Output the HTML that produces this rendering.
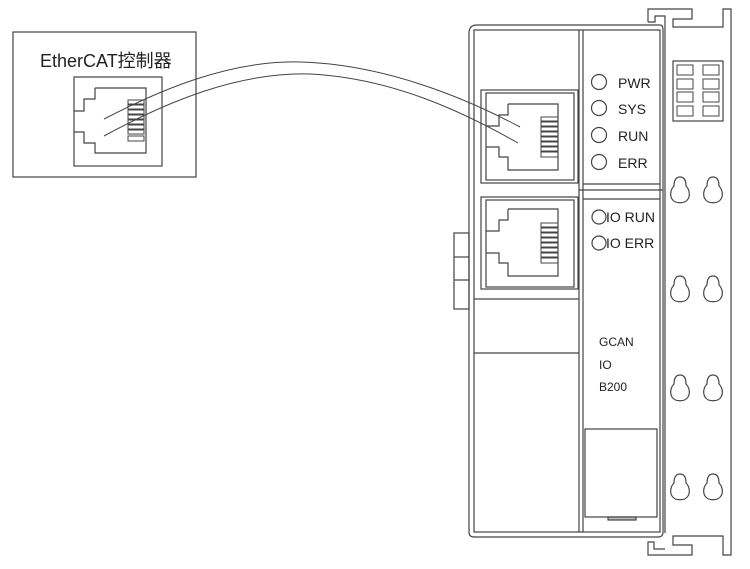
<!DOCTYPE html>
<html><head><meta charset="utf-8"><style>
html,body{margin:0;padding:0;background:#fff;}
svg{display:block}
text{font-family:"Liberation Sans","Noto Sans CJK SC",sans-serif;fill:#222}
</style></head><body>
<svg width="750" height="569" viewBox="0 0 750 569" xmlns="http://www.w3.org/2000/svg" fill="none" stroke="#444" stroke-width="1.2">
<!-- controller -->
<rect x="13" y="32" width="183" height="145"/>
<text x="40" y="67" font-size="18" stroke="none">EtherCAT控制器</text>
<rect x="74" y="77" width="88" height="89"/>
<polyline points="95,88 146,88 146,153 95,153 95,143 84,143 84,132 74,132"/>
<polyline points="95,88 95,99 84,99 84,111 74,111"/>
<g stroke-width="1">
<rect x="128" y="100" width="16" height="4"/><rect x="128" y="105" width="16" height="4"/><rect x="128" y="110" width="16" height="4"/><rect x="128" y="115" width="16" height="4"/>
<rect x="128" y="120" width="16" height="4"/><rect x="128" y="125" width="16" height="4"/><rect x="128" y="130" width="16" height="4"/><rect x="128" y="136" width="16" height="5"/>
</g>
<!-- cables -->
<path d="M104,119 C160,90 230,60 300,62 C380,64 460,95 520,127" stroke-width="1"/>
<path d="M104,136 C170,100 240,72 310,74 C390,78 460,110 518,143" stroke-width="1"/>
<!-- rail -->
<polyline points="648,22 648,9 692,9 692,19 673,19 673,27 723,27 723,9 731,9 731,555 723,555 723,536 673,536 673,545 692,545 692,555 648,555 648,542 654,542 654,549 665,549"/>
<polyline points="665,533 665,27 665,16 655,16 655,22 648,22"/>
<rect x="673" y="61" width="50" height="60"/>
<g stroke-width="1">
<rect x="677" y="65" width="16" height="10"/><rect x="703" y="65" width="16" height="10"/>
<rect x="677" y="79" width="16" height="10"/><rect x="703" y="79" width="16" height="10"/>
<rect x="677" y="92" width="16" height="10"/><rect x="703" y="92" width="16" height="10"/>
<rect x="677" y="106" width="16" height="10"/><rect x="703" y="106" width="16" height="10"/>
</g>
<defs><path id="kh" d="M0,-13 C-6,-13 -6,-6 -6,-4 C-10,0 -10,6 -8,9 C-5,14 5,14 8,9 C10,6 10,0 6,-4 C6,-6 6,-13 0,-13 Z"/></defs>
<use href="#kh" x="680" y="190"/><use href="#kh" x="713" y="190"/>
<use href="#kh" x="680" y="289"/><use href="#kh" x="713" y="289"/>
<use href="#kh" x="680" y="388"/><use href="#kh" x="713" y="388"/>
<use href="#kh" x="680" y="487"/><use href="#kh" x="713" y="487"/>
<!-- body -->
<path d="M477,25 L660,25 Q663,25 663,30 L663,532 Q663,537 658,537 L474,537 Q469,537 469,532 L469,33 Q469,25 477,25 Z"/>
<rect x="474" y="30" width="186" height="502"/>
<line x1="579" y1="30" x2="579" y2="532"/>
<line x1="583" y1="30" x2="583" y2="532"/>
<line x1="583" y1="184" x2="660" y2="184"/>
<line x1="579" y1="190" x2="663" y2="190"/>
<line x1="583" y1="199" x2="660" y2="199"/>
<line x1="474" y1="299" x2="579" y2="299"/>
<line x1="474" y1="353" x2="579" y2="353"/>
<!-- side tab -->
<rect x="454" y="233" width="15" height="76"/>
<line x1="454" y1="257" x2="469" y2="257"/><line x1="454" y1="280" x2="469" y2="280"/>
<!-- jack 1 -->
<rect x="481" y="90" width="97" height="93"/>
<rect x="486" y="93" width="88" height="87"/>
<polyline points="508,104 558,104 558,170 508,170 508,157 499,157 499,147 486,147"/>
<polyline points="508,104 508,115 499,115 499,126 486,126"/>
<g stroke-width="1">
<rect x="541" y="117" width="17" height="4"/><rect x="541" y="122" width="17" height="4"/><rect x="541" y="127" width="17" height="4"/><rect x="541" y="132" width="17" height="4"/>
<rect x="541" y="137" width="17" height="4"/><rect x="541" y="142" width="17" height="4"/><rect x="541" y="147" width="17" height="4"/><rect x="541" y="152" width="17" height="5"/>
</g>
<!-- jack 2 -->
<rect x="481" y="197" width="97" height="92"/>
<rect x="486" y="200" width="88" height="87"/>
<polyline points="508,209 558,209 558,276 508,276 508,263 499,263 499,253 486,253"/>
<polyline points="508,209 508,220 499,220 499,231 486,231"/>
<g stroke-width="1">
<rect x="541" y="223" width="17" height="4"/><rect x="541" y="228" width="17" height="4"/><rect x="541" y="233" width="17" height="4"/><rect x="541" y="238" width="17" height="4"/>
<rect x="541" y="243" width="17" height="4"/><rect x="541" y="248" width="17" height="4"/><rect x="541" y="253" width="17" height="4"/><rect x="541" y="258" width="17" height="5"/>
</g>
<!-- LEDs -->
<circle cx="599" cy="82" r="7.5"/><circle cx="599" cy="108" r="7.5"/><circle cx="599" cy="135" r="7.5"/><circle cx="599" cy="162" r="7.5"/>
<g stroke="none" font-size="14">
<text x="618" y="88">PWR</text><text x="618" y="114">SYS</text><text x="618" y="141">RUN</text><text x="618" y="168">ERR</text>
<text x="606" y="222">IO RUN</text><text x="606" y="248">IO ERR</text>
</g>
<circle cx="599" cy="217" r="7"/><circle cx="599" cy="243" r="7"/>
<g stroke="none" font-size="12">
<text x="599" y="346">GCAN</text><text x="599" y="369">IO</text><text x="599" y="391">B200</text>
</g>
<rect x="585" y="429" width="72" height="88"/>
<rect x="608" y="517" width="28" height="3" fill="#bbb"/>
</svg>
</body></html>
